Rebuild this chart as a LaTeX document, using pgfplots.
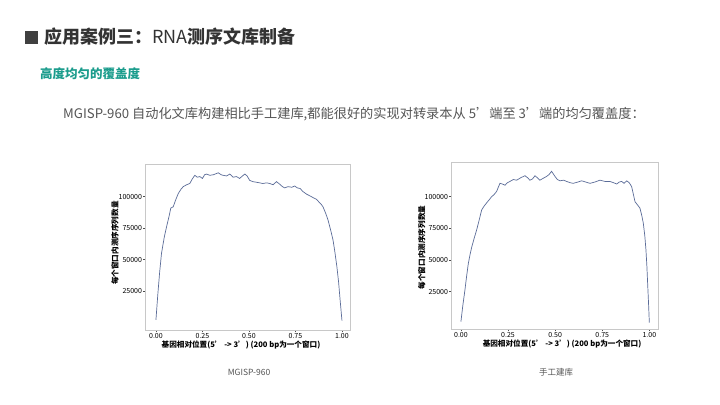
\documentclass[border=0pt]{standalone}
\usepackage{fontspec}
\setmainfont{Noto Sans CJK SC}
\usepackage{pgfplots}
\pgfplotsset{compat=1.18}

\definecolor{titlegray}{HTML}{333333}
\definecolor{textgray}{HTML}{555555}
\definecolor{tealhead}{HTML}{1A9C8C}
\definecolor{curve}{HTML}{5B6C98}
\definecolor{framegray}{HTML}{C8C8C8}

\pgfplotsset{
  covplot/.style={
    scale only axis,
    anchor=south west,
    axis line style={framegray, line width=0.6bp},
    tick style={black!70, line width=0.4bp},
    tick align=outside,
    major tick length=2.5bp,
    xtick pos=bottom, ytick pos=left,
    xtick={0,0.25,0.5,0.75,1},
    ytick={25000,50000,75000,100000},
    xticklabel style={/pgf/number format/.cd, fixed, fixed zerofill, precision=2},
    yticklabel style={/pgf/number format/.cd, fixed, 1000 sep={}},
    scaled ticks=false,
    /pgf/number format/assume math mode=true,
    ticklabel style={font=\fontsize{7bp}{8bp}\selectfont, text=black, inner sep=1bp},
    label style={font=\bfseries\fontsize{7.6bp}{8bp}\selectfont, text=black},
    ylabel={每个窗口内测序序列数量},
    xlabel={基因相对位置(5’ -> 3’) (200 bp为一个窗口)},
  }
}

\begin{document}
\begin{tikzpicture}
\useasboundingbox[fill=white] (0,0) rectangle (720bp,405bp);

% header
\fill[black!75] (25bp,405bp-44bp) rectangle (38bp,405bp-31bp);
\node[anchor=west, inner sep=0, text=titlegray, font=\fontsize{18bp}{20bp}\selectfont]
  at (44bp,405bp-37bp) {\textbf{应用案例三：}RNA\textbf{测序文库制备}};
\node[anchor=west, inner sep=0, text=tealhead, font=\bfseries\fontsize{12.5bp}{14bp}\selectfont]
  at (40bp,405bp-74bp) {高度均匀的覆盖度};
\node[anchor=center, inner sep=0, text=textgray, font=\fontsize{13.2bp}{15bp}\selectfont]
  at (354bp,405bp-114bp) {MGISP-960 自动化文库构建相比手工建库,都能很好的实现对转录本从 5’端至 3’端的均匀覆盖度：};

% left panel
\begin{axis}[covplot,
  at={(145.7bp,75bp)}, width=205bp, height=166bp,
  xmin=-0.055, xmax=1.047, ymin=-6000, ymax=126000,
  xlabel style={at={(axis description cs:0.465,-0.09)}, anchor=center},
  ylabel style={at={(axis description cs:-0.15,0.524)}, anchor=center},
]
\addplot[curve, line width=0.7bp] coordinates {
(0,2000) (0.01,22000) (0.02,40000) (0.03,55000) (0.045,68000) (0.057,76000)
(0.07,84000) (0.08,91000) (0.093,92000) (0.105,97000) (0.12,102500) (0.135,106000)
(0.147,108000) (0.165,109500) (0.182,110500) (0.195,114000) (0.209,117000) (0.222,115500)
(0.236,116000) (0.25,114500) (0.262,117500) (0.272,118000) (0.29,117000) (0.31,117500)
(0.335,119000) (0.35,117500) (0.361,117000) (0.38,116500) (0.397,118000) (0.415,115500)
(0.433,116000) (0.45,114500) (0.465,116500) (0.478,118000) (0.49,116500) (0.504,113000)
(0.52,112000) (0.54,111500) (0.558,111000) (0.575,110500) (0.595,111000) (0.612,110500)
(0.63,109500) (0.648,112000) (0.665,110000) (0.68,108000) (0.692,107000) (0.71,108000)
(0.73,107500) (0.746,108500) (0.76,107000) (0.775,106500) (0.791,104000) (0.81,102000)
(0.83,100500) (0.848,99000) (0.862,98000) (0.875,96000) (0.888,94000) (0.898,92000)
(0.912,87000) (0.925,81500) (0.94,73000) (0.952,65500) (0.962,56000) (0.973,44000)
(0.982,32000) (0.99,18000) (1.0,1500)
};
\end{axis}

% right panel
\begin{axis}[covplot,
  at={(451.7bp,76bp)}, width=206.3bp, height=166.3bp,
  xmin=-0.049, xmax=1.046, ymin=-4500, ymax=126800,
  xlabel style={at={(axis description cs:0.535,-0.09)}, anchor=center},
  ylabel style={at={(axis description cs:-0.145,0.49)}, anchor=center},
]
\addplot[curve, line width=0.7bp] coordinates {
(0,1300) (0.01,14000) (0.021,26000) (0.03,37000) (0.039,47000) (0.048,54000)
(0.057,60000) (0.07,67000) (0.083,73500) (0.096,81000) (0.11,89500) (0.123,92500)
(0.136,95000) (0.15,97500) (0.163,100000) (0.175,101500) (0.189,104000) (0.2,108000)
(0.207,110500) (0.22,110000) (0.234,109000) (0.247,111000) (0.26,112000) (0.278,113500)
(0.296,113000) (0.318,115000) (0.34,116500) (0.353,115000) (0.366,113000) (0.38,114000)
(0.393,116500) (0.405,115000) (0.419,113000) (0.437,114500) (0.455,116000) (0.468,117500)
(0.481,120000) (0.49,118000) (0.499,116000) (0.512,113500) (0.526,112500) (0.545,113000)
(0.561,112000) (0.58,111000) (0.596,110500) (0.62,111500) (0.641,112500) (0.663,111500)
(0.685,110500) (0.71,111500) (0.738,113000) (0.765,112000) (0.791,112000) (0.81,111000)
(0.827,110000) (0.84,111500) (0.853,112000) (0.866,110500) (0.88,112500) (0.893,111000)
(0.906,108000) (0.915,102000) (0.924,96000) (0.937,93500) (0.95,91000) (0.96,85000)
(0.968,79000) (0.976,69000) (0.982,58000) (0.987,45000) (0.991,31500) (0.996,15000)
(1.0,500)
};
\end{axis}

% captions
\node[text=textgray, font=\fontsize{8.5bp}{10bp}\selectfont, inner sep=0]
  at (249bp,405bp-372bp) {MGISP-960};
\node[text=textgray, font=\fontsize{8.5bp}{10bp}\selectfont, inner sep=0]
  at (556bp,405bp-372bp) {手工建库};
\end{tikzpicture}
\end{document}
